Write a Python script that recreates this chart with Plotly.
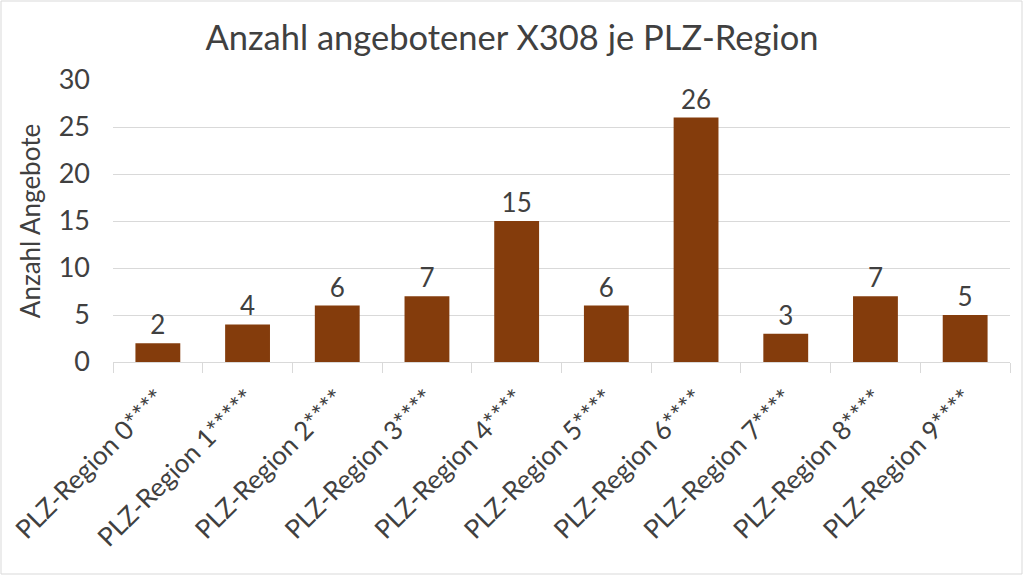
import plotly.graph_objects as go

categories = ["PLZ-Region 0****", "PLZ-Region 1*****", "PLZ-Region 2****", "PLZ-Region 3****",
              "PLZ-Region 4****", "PLZ-Region 5****", "PLZ-Region 6****", "PLZ-Region 7****",
              "PLZ-Region 8****", "PLZ-Region 9****"]
values = [2, 4, 6, 7, 15, 6, 26, 3, 7, 5]
y_ticks = [0, 5, 10, 15, 20, 25, 30]

FONT = "Lato"
TXT = "#404040"

fig = go.Figure()
fig.add_trace(go.Bar(
    x=categories, y=values,
    marker=dict(color="#843C0C", line=dict(width=0)),
    text=[str(v) for v in values], textposition="outside",
    textfont=dict(family=FONT, size=26, color=TXT),
    cliponaxis=False, width=0.5,
))

L, R, T, B = 113, 14, 80, 214
W, H = 1024, 576
pw, ph = W - L - R, H - T - B

fig.update_layout(
    width=W, height=H,
    margin=dict(l=L, r=R, t=T, b=B, autoexpand=False),
    paper_bgcolor="white", plot_bgcolor="white",
    title=dict(text="Anzahl angebotener X308 je PLZ-Region", x=0.5, xanchor="center",
               y=1 - 38 / H, yanchor="middle",
               font=dict(family=FONT, size=34.5, color=TXT)),
    font=dict(family=FONT, color=TXT),
    showlegend=False,
    bargap=0.5,
    xaxis=dict(
        tickangle=-45, tickfont=dict(family=FONT, size=26, color=TXT),
        showline=True, linecolor="#d9d9d9", linewidth=1,
        ticks="outside", tickson="boundaries", ticklen=10, tickcolor="#d9d9d9",
        ticklabelstandoff=10,
        showgrid=False, automargin=False,
    ),
    yaxis=dict(
        range=[0, 30], tickvals=y_ticks, showgrid=True, gridcolor="#d9d9d9",
        zeroline=False, showline=False, automargin=False,
        tickfont=dict(family=FONT, size=27, color=TXT), ticks="", ticklabelstandoff=22,
        title=dict(text="Anzahl Angebote", font=dict(family=FONT, size=26, color=TXT), standoff=10),
    ),
    shapes=[dict(type="rect", xref="paper", yref="paper",
                 x0=(1 - L) / pw, x1=(W - 2 - L) / pw,
                 y0=(T + ph - (H - 2)) / ph, y1=(T + ph - 1) / ph,
                 line=dict(color="#d9d9d9", width=1), fillcolor="rgba(0,0,0,0)", layer="below")],
)

fig.write_html("out.html", config={"displayModeBar": False},
               post_script="document.body.style.margin='0';document.body.style.overflow='hidden';")
